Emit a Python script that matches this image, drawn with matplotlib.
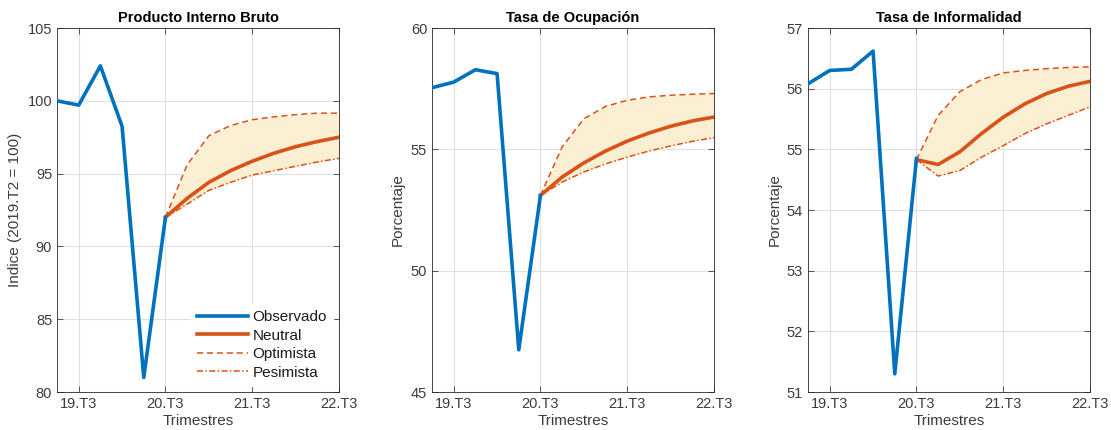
import matplotlib
matplotlib.use("Agg")
import matplotlib.pyplot as plt
import numpy as np

plt.rcParams['font.family'] = ['Liberation Sans', 'DejaVu Sans']

quarters = ["19.T2", "19.T3", "19.T4", "20.T1", "20.T2", "20.T3", "20.T4",
            "21.T1", "21.T2", "21.T3", "21.T4", "22.T1", "22.T2", "22.T3"]
tick_labels = ["19.T3", "20.T3", "21.T3", "22.T3"]

titles = ["Producto Interno Bruto", "Tasa de Ocupación", "Tasa de Informalidad"]
ylabels = ["Indice (2019.T2 = 100)", "Porcentaje", "Porcentaje"]
ylims = [(80, 105), (45, 60), (51, 57)]
yticks = [[80, 85, 90, 95, 100, 105], [45, 50, 55, 60], [51, 52, 53, 54, 55, 56, 57]]

# Observed: 19.T2 .. 20.T3
pib_obs = [100.0, 99.7, 102.4, 98.25, 81.0, 92.0]
ocu_obs = [57.54, 57.77, 58.28, 58.12, 46.74, 53.1]
inf_obs = [56.08, 56.30, 56.32, 56.62, 51.3, 54.85]

# Scenarios: 20.T3 .. 22.T3
pib_neu = [92.0, 93.3, 94.4, 95.2, 95.85, 96.4, 96.85, 97.2, 97.5]
pib_opt = [92.0, 95.6, 97.6, 98.3, 98.7, 98.9, 99.05, 99.15, 99.15]
pib_pes = [92.0, 92.9, 93.85, 94.4, 94.9, 95.2, 95.5, 95.8, 96.05]

ocu_neu = [53.1, 53.86, 54.44, 54.93, 55.34, 55.67, 55.95, 56.17, 56.33]
ocu_opt = [53.1, 55.1, 56.26, 56.77, 57.02, 57.16, 57.23, 57.27, 57.3]
ocu_pes = [53.1, 53.65, 54.07, 54.4, 54.68, 54.93, 55.14, 55.33, 55.48]

inf_neu = [54.83, 54.75, 54.96, 55.26, 55.53, 55.75, 55.92, 56.04, 56.12]
inf_opt = [54.83, 55.56, 55.95, 56.15, 56.26, 56.30, 56.33, 56.35, 56.36]
inf_pes = [54.83, 54.56, 54.65, 54.87, 55.06, 55.26, 55.42, 55.56, 55.70]

data = [
    (pib_obs, pib_neu, pib_opt, pib_pes),
    (ocu_obs, ocu_neu, ocu_opt, ocu_pes),
    (inf_obs, inf_neu, inf_opt, inf_pes),
]

BLUE = '#0072BD'
ORANGE = '#D95319'
FILL = '#FBEFD3'
TXT = '#3C3C3C'

fig = plt.figure(figsize=(11.11, 4.30), dpi=100)
lefts = [57 / 1111, 432 / 1111, 808 / 1111]
width = 282 / 1111
bottom = 1 - 392 / 430
height = 364 / 430

x_all = np.arange(len(quarters))
n_obs = len(pib_obs)
x_obs = x_all[:n_obs]
x_fc = x_all[n_obs - 1:]

for i, (obs, neu, opt, pes) in enumerate(data):
    ax = fig.add_axes([lefts[i], bottom, width, height])
    ax.fill_between(x_fc, pes, opt, color=FILL, linewidth=0, zorder=1)
    l1, = ax.plot(x_obs, obs, color=BLUE, lw=2.6, zorder=4, label='Observado')
    l2, = ax.plot(x_fc, neu, color=ORANGE, lw=2.6, zorder=3, label='Neutral')
    l3, = ax.plot(x_fc, opt, color=ORANGE, lw=1.1, ls=(0, (4, 2.5)), zorder=3, label='Optimista')
    l4, = ax.plot(x_fc, pes, color=ORANGE, lw=1.1, ls=(0, (4, 1.5, 1, 1.5)), zorder=3, label='Pesimista')
    ax.set_xlim(x_all[0], x_all[-1])
    ax.set_ylim(*ylims[i])
    ax.set_yticks(yticks[i])
    ax.set_xticks([quarters.index(t) for t in tick_labels])
    ax.set_xticklabels(tick_labels)
    ax.grid(True, color='#E0E0E0', lw=0.8, zorder=0)
    ax.set_axisbelow(True)
    ax.tick_params(direction='in', length=4, width=0.6, labelsize=10.5,
                   colors=TXT, top=True, right=True)
    for sp in ax.spines.values():
        sp.set_color('#262626')
        sp.set_linewidth(0.6)
    ax.set_title(titles[i], fontsize=10.5, fontweight='bold', pad=4, color='black')
    ax.set_xlabel('Trimestres', fontsize=11, color=TXT, labelpad=2)
    ax.set_ylabel(ylabels[i], fontsize=11, color=TXT, labelpad=4)
    if i == 0:
        leg = ax.legend(handles=[l1, l2, l3, l4], loc='lower right', fontsize=11,
                        frameon=True, facecolor='white', edgecolor='white',
                        framealpha=1, handlelength=3.3, handletextpad=0.3,
                        labelspacing=0.3, borderaxespad=0.4, fancybox=False)
        for t in leg.get_texts():
            t.set_color('#1A1A1A')

fig.savefig('out.png', dpi=100)
